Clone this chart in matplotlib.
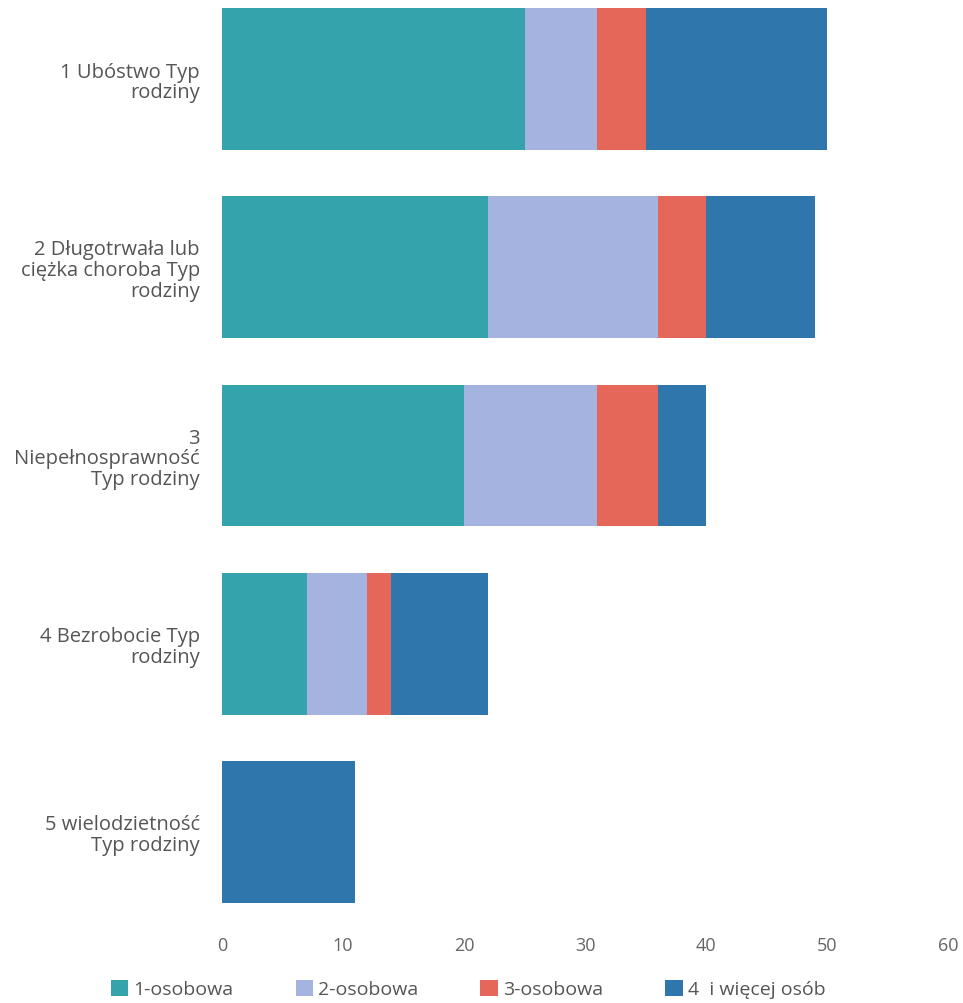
import matplotlib
matplotlib.use("Agg")
import matplotlib.pyplot as plt
from matplotlib.patches import Patch
import numpy as np

categories = [
    "1 Ubóstwo Typ\nrodziny",
    "2 Długotrwała lub\nciężka choroba Typ\nrodziny",
    "3\nNiepełnosprawność\nTyp rodziny",
    "4 Bezrobocie Typ\nrodziny",
    "5 wielodzietność\nTyp rodziny",
]
series_names = ["1-osobowa", "2-osobowa", "3-osobowa", "4  i więcej osób"]
s1 = [25, 22, 20, 7, 0]
s2 = [6, 14, 11, 5, 0]
s3 = [4, 4, 5, 2, 0]
s4 = [15, 9, 4, 8, 11]
xticks = [0, 10, 20, 30, 40, 50, 60]

colors = ["#34a3ab", "#a4b3df", "#e4675a", "#2f76ad"]

plt.rcParams['font.family'] = ['Open Sans', 'DejaVu Sans']

fig = plt.figure(figsize=(9.63, 10.04), dpi=100)
ax = fig.add_axes([222/963, 1 - 925/1004, (948-222)/963, 925/1004])

y = np.arange(len(categories))
left = np.zeros(len(categories))
for vals, col, name in zip([s1, s2, s3, s4], colors, series_names):
    ax.barh(y, vals, left=left, height=0.754, color=col, label=name, edgecolor='none')
    left += np.array(vals)

ax.set_ylim(4.489, -0.425)
ax.set_xlim(0, 60)
ax.set_xticks(xticks)
ax.set_xticklabels([str(t) for t in xticks], fontsize=13, color='#666666')
ax.set_yticks(y)
ax.set_yticklabels(categories, fontsize=14.5, color='#555555', linespacing=1.05)
for lab in ax.get_yticklabels():
    lab.set_horizontalalignment('right')
ax.tick_params(axis='y', length=0, pad=16)
ax.tick_params(axis='x', length=0, pad=9)
for sp in ax.spines.values():
    sp.set_visible(False)

handles = [Patch(facecolor=c, edgecolor='none') for c in colors]
leg = fig.legend(handles, series_names, loc='center', bbox_to_anchor=(0.486, 1 - 990/1004),
                 ncol=4, frameon=False, fontsize=14, handlelength=0.9, handleheight=0.9,
                 handletextpad=0.25, columnspacing=3.2)
for t in leg.get_texts():
    t.set_color('#555555')

fig.savefig("out.png", dpi=100, facecolor='white')
